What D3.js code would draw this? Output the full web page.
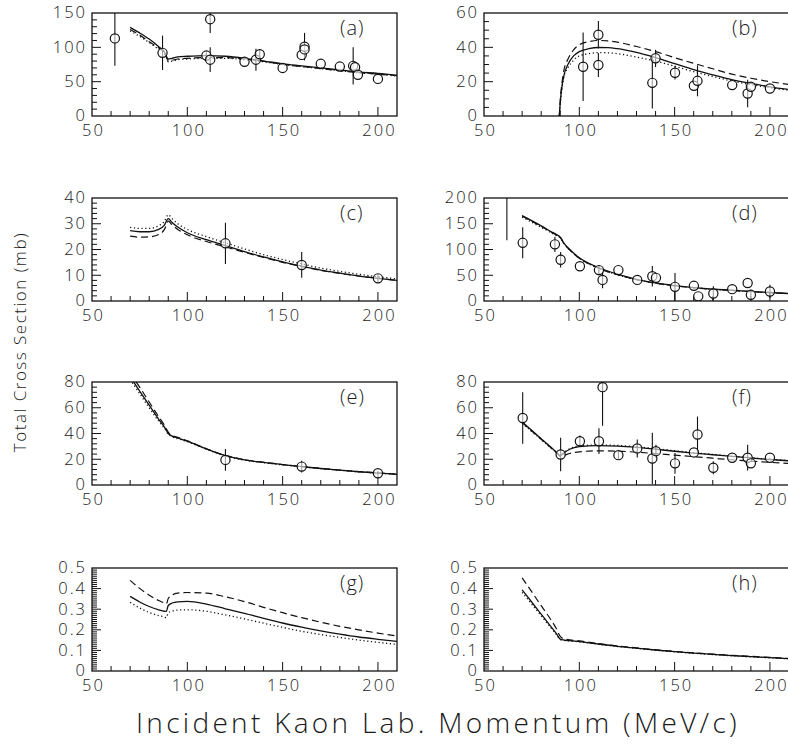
<!DOCTYPE html>
<html>
<head>
<meta charset="utf-8">
<script src="https://cdnjs.cloudflare.com/ajax/libs/d3/7.8.5/d3.min.js"></script>
<style>
  body { margin: 0; background: #fff; }
  svg { display: block; }
  text { font-family: "Open Sans", "DejaVu Sans", sans-serif; font-weight: 300; fill: #1a1a1a; }
</style>
</head>
<body>
<svg id="chart" width="788" height="755"></svg>
<script>
// momentum grid (MeV/c) for the theory curves
var grid = [70, 75, 80, 85, 88, 90, 92, 95, 100, 110, 120, 130, 140, 150, 160, 170, 180, 190, 200, 210];
var gridA = [70, 75, 80, 85, 88, 89, 90, 92, 95, 100, 110, 120, 130, 140, 150, 160, 170, 180, 190, 200, 210];
var gridB = [89.5, 90, 91, 92, 94, 97, 100, 105, 110, 115, 120, 130, 140, 150, 160, 170, 180, 190, 200, 210];

// (a)
var solidA  = [129, 121, 112, 101, 93, 87, 83, 84, 86, 87, 88, 87, 84, 80, 76, 73, 70, 67, 64, 62, 59];
var dashedA = [126, 118, 108, 99, 92, 86, 80, 81, 83, 84, 85, 85, 83, 80, 75, 72, 69, 66, 63, 61, 59];
var dottedA = [124, 116, 107, 97, 91, 85, 79, 80, 82, 83, 84, 84, 82, 79, 75, 72, 69, 66, 63, 61, 58];
var pointsA = [[62, 113, 40], [87, 92, 25], [112, 141, 20], [110, 88, 5], [112, 82, 18], [130, 79, 0],
               [136, 82, 16], [138, 90, 6], [150, 70, 0], [160, 89, 0], [161.5, 101, 20], [161.5, 97, 0],
               [170, 76, 0], [180, 72, 0], [187, 73, 27], [188, 71, 0], [189.5, 60, 0], [200, 54, 0]];

// (b)
var solidB  = [0, 8, 18, 24, 30, 35, 37.5, 39.2, 39.9, 39.8, 39.2, 37, 34, 30.5, 27, 24, 21.2, 19, 17, 15.4];
var dashedB = [0, 9, 20, 27, 33, 38.5, 41.5, 43.3, 44, 43.8, 43, 40.5, 37.5, 34, 30.7, 27.5, 24.4, 22, 20, 18.4];
var dottedB = [0, 7, 17, 23, 28, 32.5, 35, 36.3, 36.9, 36.8, 36.3, 34.3, 32, 29, 25.8, 23, 20.4, 18.3, 16.5, 15];
var pointsB = [[102, 28.7, 20], [110, 47.3, 8], [110, 29.7, 7], [138.3, 19.3, 15], [140, 33.6, 5],
               [150.2, 25.2, 4], [160.1, 17.6, 0], [162, 20.5, 9], [180.2, 18, 0], [188.3, 13.1, 8],
               [190, 17, 0], [200, 16, 0]];

// (c)
var solidC  = [27.3, 26.9, 26.9, 27.8, 29.5, 32.0, 30.5, 28.7, 26.5, 23.8, 21.5, 19.2, 17.1, 15.2, 13.5, 12.0, 10.8, 9.7, 8.8, 8.0];
var dashedC = [25.2, 24.8, 24.9, 25.8, 27.8, 31.0, 29.6, 27.8, 25.7, 23.1, 21.0, 18.9, 16.9, 15.0, 13.4, 11.9, 10.7, 9.7, 8.8, 8.0];
var dottedC = [28.6, 28.2, 28.2, 29.2, 31.0, 33.5, 32.0, 30.0, 27.8, 25.0, 22.6, 20.2, 18.0, 16.1, 14.4, 12.8, 11.5, 10.4, 9.4, 8.6];
var pointsC = [[120, 22.4, 8], [160, 14, 5], [200, 8.8, 1.5]];

// (d)
var solidD  = [166, 156, 146, 135, 129, 124, 112, 100, 84, 65, 52, 42, 35, 30, 26, 23, 21, 18.5, 16.5, 14.5];
var dashedD = [165, 155, 145, 134, 128, 123, 111, 99, 83, 64, 51, 41.5, 34.5, 29.5, 25.7, 22.7, 20.5, 18.2, 16.2, 14.3];
var dottedD = [163, 153, 143, 133, 127, 122, 111, 99, 83, 64, 51, 41.5, 34.5, 29.5, 25.7, 22.7, 20.5, 18.2, 16.2, 14.3];
var pointsD = [[62, 240, 122], [70.3, 113, 30], [87.2, 110, 15], [90.2, 80, 15], [100.3, 67.5, 0],
               [110.3, 60, 10], [112.2, 41, 16], [120.5, 60, 0], [130.4, 41, 0], [138.3, 48, 20],
               [140.2, 45, 0], [150.2, 27.5, 27], [160.1, 29.5, 0], [162.4, 9, 0], [170.3, 14.5, 14],
               [180.2, 23, 0], [188.3, 35, 0], [190, 12, 10], [200, 18.4, 13]];

// (e)
var solidE  = [84, 73, 62, 51, 45, 40, 38, 36.5, 34, 28, 22.8, 19.5, 17.5, 15.8, 14.3, 12.8, 11.5, 10.3, 9.3, 8.3];
var dashedE = [87, 76, 64.5, 53, 46.5, 41, 38.5, 37, 34.3, 28.2, 23, 19.7, 17.6, 15.9, 14.4, 12.9, 11.6, 10.4, 9.4, 8.4];
var dottedE = [82, 71, 60, 49.5, 44, 39.5, 37.5, 36, 33.7, 27.8, 22.6, 19.3, 17.3, 15.6, 14.1, 12.7, 11.4, 10.2, 9.2, 8.2];
var pointsE = [[120, 19.5, 8.5], [160, 14.3, 4.5], [200, 9.1, 2]];

// (f)
var solidF  = [49, 42.5, 36, 29.5, 25.5, 22.8, 25, 27.8, 29.8, 30.6, 30.2, 29.2, 27.8, 26.2, 24.8, 23.5, 22.2, 21, 19.8, 18.8];
var dashedF = [48.5, 42, 35.5, 29, 25, 22.4, 23, 24.5, 25.8, 26.5, 26.3, 25.5, 24.4, 23.2, 22, 20.8, 19.6, 18.6, 17.6, 16.8];
var dottedF = [48, 41.6, 35.3, 28.9, 25.2, 22.6, 25.2, 28.2, 30.3, 31.1, 30.7, 29.7, 28.2, 26.6, 25.1, 23.8, 22.5, 21.2, 20, 19];
var pointsF = [[70.3, 52, 20], [90.2, 23.7, 13], [100.3, 34, 4.5], [110.3, 34, 10], [112.2, 76, 30],
               [120.5, 23.2, 3], [130.4, 28.4, 7], [138.3, 20.6, 20], [140.2, 26.3, 5], [150.2, 16.8, 8],
               [160.1, 25.3, 0], [162, 39.2, 14], [170.3, 13.4, 5], [180.2, 21.2, 0], [188.3, 21.2, 10],
               [190, 16.8, 0], [200, 21.2, 0]];

// (g)
var solidG  = [0.362, 0.335, 0.313, 0.297, 0.290, 0.289, 0.318, 0.330, 0.336, 0.338, 0.325, 0.302, 0.280, 0.256, 0.233, 0.213, 0.195, 0.179, 0.165, 0.154, 0.144];
var dashedG = [0.440, 0.401, 0.368, 0.342, 0.330, 0.326, 0.352, 0.368, 0.378, 0.381, 0.378, 0.360, 0.337, 0.309, 0.283, 0.259, 0.237, 0.217, 0.200, 0.184, 0.170];
var dottedG = [0.333, 0.306, 0.284, 0.269, 0.262, 0.259, 0.282, 0.291, 0.296, 0.297, 0.290, 0.272, 0.253, 0.232, 0.212, 0.193, 0.177, 0.163, 0.150, 0.139, 0.129];

// (h)
var solidH  = [0.394, 0.335, 0.276, 0.217, 0.181, 0.155, 0.150, 0.147, 0.143, 0.131, 0.120, 0.111, 0.102, 0.094, 0.087, 0.081, 0.075, 0.070, 0.065, 0.060];
var dashedH = [0.452, 0.385, 0.317, 0.250, 0.205, 0.168, 0.156, 0.151, 0.146, 0.133, 0.122, 0.112, 0.103, 0.095, 0.088, 0.082, 0.076, 0.071, 0.066, 0.061];
var dottedH = [0.382, 0.325, 0.268, 0.211, 0.177, 0.153, 0.149, 0.146, 0.142, 0.130, 0.119, 0.110, 0.101, 0.093, 0.086, 0.080, 0.074, 0.069, 0.064, 0.059];

var xTicks = [50, 100, 150, 200];

var panels = [
    {label: "(a)", xs: gridA, solid: solidA, dashed: dashedA, dotted: dottedA, pts: pointsA, yMax: 150, yStep: 50, yMinor: 10},
    {label: "(b)", xs: gridB, solid: solidB, dashed: dashedB, dotted: dottedB, pts: pointsB, yMax: 60, yStep: 20, yMinor: 5},
    {label: "(c)", xs: grid, solid: solidC, dashed: dashedC, dotted: dottedC, pts: pointsC, yMax: 40, yStep: 10, yMinor: 2},
    {label: "(d)", xs: grid, solid: solidD, dashed: dashedD, dotted: dottedD, pts: pointsD, yMax: 200, yStep: 50, yMinor: 10},
    {label: "(e)", xs: grid, solid: solidE, dashed: dashedE, dotted: dottedE, pts: pointsE, yMax: 80, yStep: 20, yMinor: 4},
    {label: "(f)", xs: grid, solid: solidF, dashed: dashedF, dotted: dottedF, pts: pointsF, yMax: 80, yStep: 20, yMinor: 4},
    {label: "(g)", xs: gridA, solid: solidG, dashed: dashedG, dotted: dottedG, pts: [], yMax: 0.5, yStep: 0.1, yMinor: 0.01},
    {label: "(h)", xs: grid, solid: solidH, dashed: dashedH, dotted: dottedH, pts: [], yMax: 0.5, yStep: 0.1, yMinor: 0.01}
];

var svg = d3.select("#chart");
var colLeft = [92, 484];
var rowTop = [13, 198, 382, 568];
var w = 305, h = 103;

var styles = [
    {key: "solid", dash: null, width: 1.3},
    {key: "dashed", dash: "7,4", width: 1.2},
    {key: "dotted", dash: "1.2,2.6", width: 1.3}
];

panels.forEach(function (p, i) {
    var col = i % 2, row = Math.floor(i / 2);
    var g = svg.append("g")
        .attr("transform", "translate(" + colLeft[col] + "," + rowTop[row] + ")");

    var x = d3.scaleLinear().domain([50, 210]).range([0, w]);
    var y = d3.scaleLinear().domain([0, p.yMax]).range([h, 0]);

    g.append("clipPath").attr("id", "clip" + i)
        .append("rect").attr("width", w).attr("height", h);

    // frame
    g.append("rect")
        .attr("width", w).attr("height", h)
        .attr("fill", "none").attr("stroke", "#111").attr("stroke-width", 1.3);

    // x ticks (inside)
    var xMinor = d3.range(60, 210, 10);
    g.selectAll(".xt").data(xMinor).enter().append("line")
        .attr("x1", function (d) { return x(d); }).attr("x2", function (d) { return x(d); })
        .attr("y1", h).attr("y2", function (d) { return d % 50 === 0 ? h - 9 : h - 5; })
        .attr("stroke", "#111").attr("stroke-width", 1);

    // y ticks (inside)
    var nMinor = Math.round(p.yMax / p.yMinor);
    var yMinor = d3.range(1, nMinor).map(function (k) { return k * p.yMinor; });
    var ratio = Math.round(p.yStep / p.yMinor);
    g.selectAll(".yt").data(yMinor).enter().append("line")
        .attr("y1", function (d) { return y(d); }).attr("y2", function (d) { return y(d); })
        .attr("x1", 0).attr("x2", function (d, k) { return (k + 1) % ratio === 0 ? 9 : 5; })
        .attr("stroke", "#111").attr("stroke-width", 1);

    // axis labels
    var xAxis = d3.axisBottom(x).tickValues(xTicks).tickSize(0).tickPadding(8).tickFormat(d3.format("d"));
    g.append("g").attr("transform", "translate(0," + h + ")").call(xAxis)
        .call(function (s) { s.select(".domain").remove(); })
        .selectAll("text").style("font-size", "16.5px").style("letter-spacing", "2px")
        .attr("dx", "1px").attr("fill", "#1a1a1a");

    var yTickVals = d3.range(0, Math.round(p.yMax / p.yStep) + 1).map(function (k) { return +(k * p.yStep).toFixed(2); });
    var yAxis = d3.axisLeft(y).tickValues(yTickVals).tickSize(0).tickPadding(5)
        .tickFormat(function (d) { return p.yMax < 1 ? (d === 0 ? "0" : d3.format(".1f")(d)) : d; });
    g.append("g").call(yAxis)
        .call(function (s) { s.select(".domain").remove(); })
        .selectAll("text").style("font-size", "16.5px").style("letter-spacing", "2px")
        .attr("dy", "0.3em").attr("fill", "#1a1a1a");

    // curves
    var plot = g.append("g").attr("clip-path", "url(#clip" + i + ")");
    styles.forEach(function (s) {
        var line = d3.line()
            .x(function (d, k) { return x(p.xs[k]); })
            .y(function (d) { return y(d); })
            .curve(d3.curveMonotoneX);
        plot.append("path")
            .attr("d", line(p[s.key]))
            .attr("fill", "none")
            .attr("stroke", "#111")
            .attr("stroke-width", s.width)
            .attr("stroke-dasharray", s.dash);
    });

    // error bars + points
    plot.selectAll(".err").data(p.pts.filter(function (d) { return d[2] > 0; })).enter().append("line")
        .attr("x1", function (d) { return x(d[0]); }).attr("x2", function (d) { return x(d[0]); })
        .attr("y1", function (d) { return y(d[1] - d[2]); })
        .attr("y2", function (d) { return y(d[1] + d[2]); })
        .attr("stroke", "#111").attr("stroke-width", 1.1);
    plot.selectAll(".pt").data(p.pts).enter().append("circle")
        .attr("cx", function (d) { return x(d[0]); })
        .attr("cy", function (d) { return y(d[1]); })
        .attr("r", 4.6)
        .attr("fill", "#fff").attr("fill-opacity", 0.6)
        .attr("stroke", "#111").attr("stroke-width", 1.2);

    g.append("text")
        .attr("x", w - 57).attr("y", 22)
        .style("font-size", "20px")
        .style("letter-spacing", "1px")
        .text(p.label);
});

svg.append("text")
    .attr("transform", "translate(26,342) rotate(-90)")
    .attr("text-anchor", "middle")
    .style("font-size", "17px")
    .style("letter-spacing", "1.5px")
    .text("Total Cross Section (mb)");

svg.append("text")
    .attr("x", 438).attr("y", 733)
    .attr("text-anchor", "middle")
    .style("font-size", "28px")
    .style("letter-spacing", "3.3px")
    .text("Incident Kaon Lab. Momentum (MeV/c)");
</script>
</body>
</html>
